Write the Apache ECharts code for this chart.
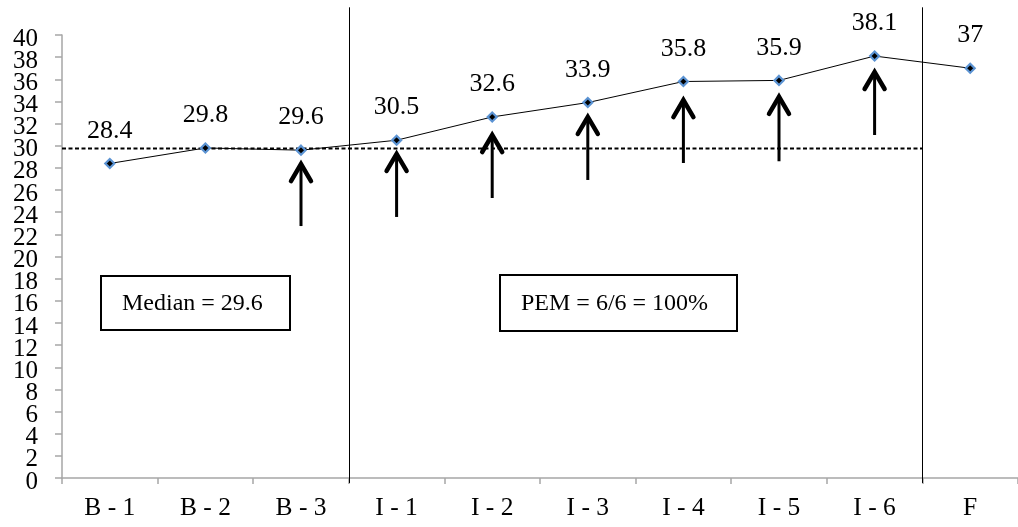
<!DOCTYPE html>
<html>
<head>
<meta charset="utf-8">
<script src="https://cdn.jsdelivr.net/npm/echarts@6/dist/echarts.min.js"></script>
<style>
html,body{margin:0;padding:0;background:#fff;}
#chart{width:1018px;height:527px;}
</style>
</head>
<body>
<div id="chart"></div>
<script>
// ---- data ----
const categories = ['B - 1', 'B - 2', 'B - 3', 'I - 1', 'I - 2', 'I - 3', 'I - 4', 'I - 5', 'I - 6', 'F'];
const values = [28.4, 29.8, 29.6, 30.5, 32.6, 33.9, 35.8, 35.9, 38.1, 37];
const yMin = 0, yMax = 40, yInterval = 2;
const yTickLabels = [0, 2, 4, 6, 8, 10, 12, 14, 16, 18, 20, 22, 24, 26, 28, 30, 32, 34, 36, 38, 40];
const medianLevel = 29.75;            // dashed reference line level
const medianEndIndex = 8;             // dashed line runs to the end of I - 6
const phaseBoundaryAfter = [2, 8];    // vertical phase lines after B - 3 and I - 6
const phaseLineTop = 42.5, phaseLineBottom = -0.45;
const arrowCats = ['B - 3', 'I - 1', 'I - 2', 'I - 3', 'I - 4', 'I - 5', 'I - 6'];
const arrowTips = [28.53, 29.44, 31.15, 32.78, 34.31, 34.6, 36.84];
const arrowTails = [22.75, 23.57, 25.28, 26.91, 28.44, 28.6, 30.97];
const medianText = 'Median = 29.6';
const pemText = 'PEM = 6/6 = 100%';

const FONT = '"Liberation Serif", "Times New Roman", serif';
const chart = echarts.init(document.getElementById('chart'), null, {renderer: 'canvas'});

function box(x, y, w, h, text) {
  return {
    type: 'group', left: x, top: y,
    children: [
      {type: 'rect', shape: {x: 0, y: 0, width: w, height: h},
       style: {fill: '#fff', stroke: '#000', lineWidth: 2}},
      {type: 'text', x: 21, y: h / 2 + 1,
       style: {text: text, font: '24px ' + FONT, fill: '#000', verticalAlign: 'middle', align: 'left'}}
    ]
  };
}

const option = {
  animation: false,
  backgroundColor: '#fff',
  grid: {left: 62, top: 35, right: -10, bottom: 49, containLabel: false},
  xAxis: {
    type: 'category',
    data: categories,
    boundaryGap: true,
    axisLine: {lineStyle: {color: '#a6a6a6', width: 1.5}},
    axisTick: {show: true, length: 6, lineStyle: {color: '#a6a6a6', width: 1.5}},
    axisLabel: {color: '#000', fontFamily: FONT, fontSize: 25.5, margin: 17},
    splitLine: {show: false}
  },
  yAxis: {
    type: 'value',
    min: yMin, max: yMax, interval: yInterval,
    axisLine: {show: true, lineStyle: {color: '#a6a6a6', width: 1.5}},
    axisTick: {show: true, length: 7, lineStyle: {color: '#a6a6a6', width: 1.5}},
    axisLabel: {show: false},
    splitLine: {show: false}
  },
  graphic: [
    box(100, 275, 189, 54, medianText),
    box(499, 274, 237, 56, pemText)
  ],
  series: [
    {
      // y-axis tick labels, placed through the y scale (tightly packed as in the source)
      type: 'custom',
      name: 'yLabels',
      clip: false,
      silent: true,
      z: 2,
      data: yTickLabels.map(function (v) { return [0, v]; }),
      renderItem: function (params, api) {
        const band = api.size([1, 0])[0];
        const p = api.coord([0, api.value(1)]);
        return {
          type: 'text',
          x: p[0] - band / 2 - 24,
          y: p[1] + 4,
          style: {text: String(api.value(1)), font: '25px ' + FONT, fill: '#000',
                  align: 'right', verticalAlign: 'middle'}
        };
      }
    },
    {
      type: 'custom',
      name: 'refs',
      clip: false,
      silent: true,
      z: 1,
      data: [[0, medianLevel]],
      renderItem: function (params, api) {
        const band = api.size([1, 0])[0];
        const p0 = api.coord([0, medianLevel]);
        const pe = api.coord([medianEndIndex, medianLevel]);
        const children = [{
          type: 'line',
          shape: {x1: p0[0] - band / 2, y1: p0[1], x2: pe[0] + band / 2, y2: pe[1]},
          style: {stroke: '#000', lineWidth: 2, lineDash: [4, 2.5]}
        }];
        phaseBoundaryAfter.forEach(function (idx) {
          const t = api.coord([idx, phaseLineTop]);
          const b = api.coord([idx, phaseLineBottom]);
          const x = Math.round(t[0] + band / 2) + 0.5;
          children.push({
            type: 'line',
            shape: {x1: x, y1: t[1], x2: x, y2: b[1]},
            style: {stroke: '#000', lineWidth: 1}
          });
        });
        return {type: 'group', children: children};
      }
    },
    {
      type: 'line',
      name: 'score',
      data: values,
      z: 3,
      symbol: 'diamond',
      symbolSize: 9,
      lineStyle: {color: '#000', width: 1},
      itemStyle: {color: '#000', borderColor: '#5b93d3', borderWidth: 2.2},
      label: {show: true, position: 'top', distance: 14, color: '#000', fontFamily: FONT, fontSize: 26},
      emphasis: {disabled: true}
    },
    {
      type: 'custom',
      name: 'arrows',
      clip: false,
      silent: true,
      z: 4,
      data: arrowCats.map(function (c, i) { return [categories.indexOf(c), arrowTips[i], arrowTails[i]]; }),
      renderItem: function (params, api) {
        const tip = api.coord([api.value(0), api.value(1)]);
        const tail = api.coord([api.value(0), api.value(2)]);
        return {
          type: 'group',
          children: [
            {type: 'line', shape: {x1: tip[0], y1: tip[1] + 2, x2: tail[0], y2: tail[1]},
             style: {stroke: '#000', lineWidth: 3}},
            {type: 'polyline', shape: {points: [[tip[0] - 10, tip[1] + 19], [tip[0], tip[1] + 2], [tip[0] + 10, tip[1] + 19]]},
             style: {stroke: '#000', lineWidth: 4.5, fill: null, lineJoin: 'miter', lineCap: 'round'}}
          ]
        };
      }
    }
  ]
};
chart.setOption(option);
</script>
</body>
</html>
